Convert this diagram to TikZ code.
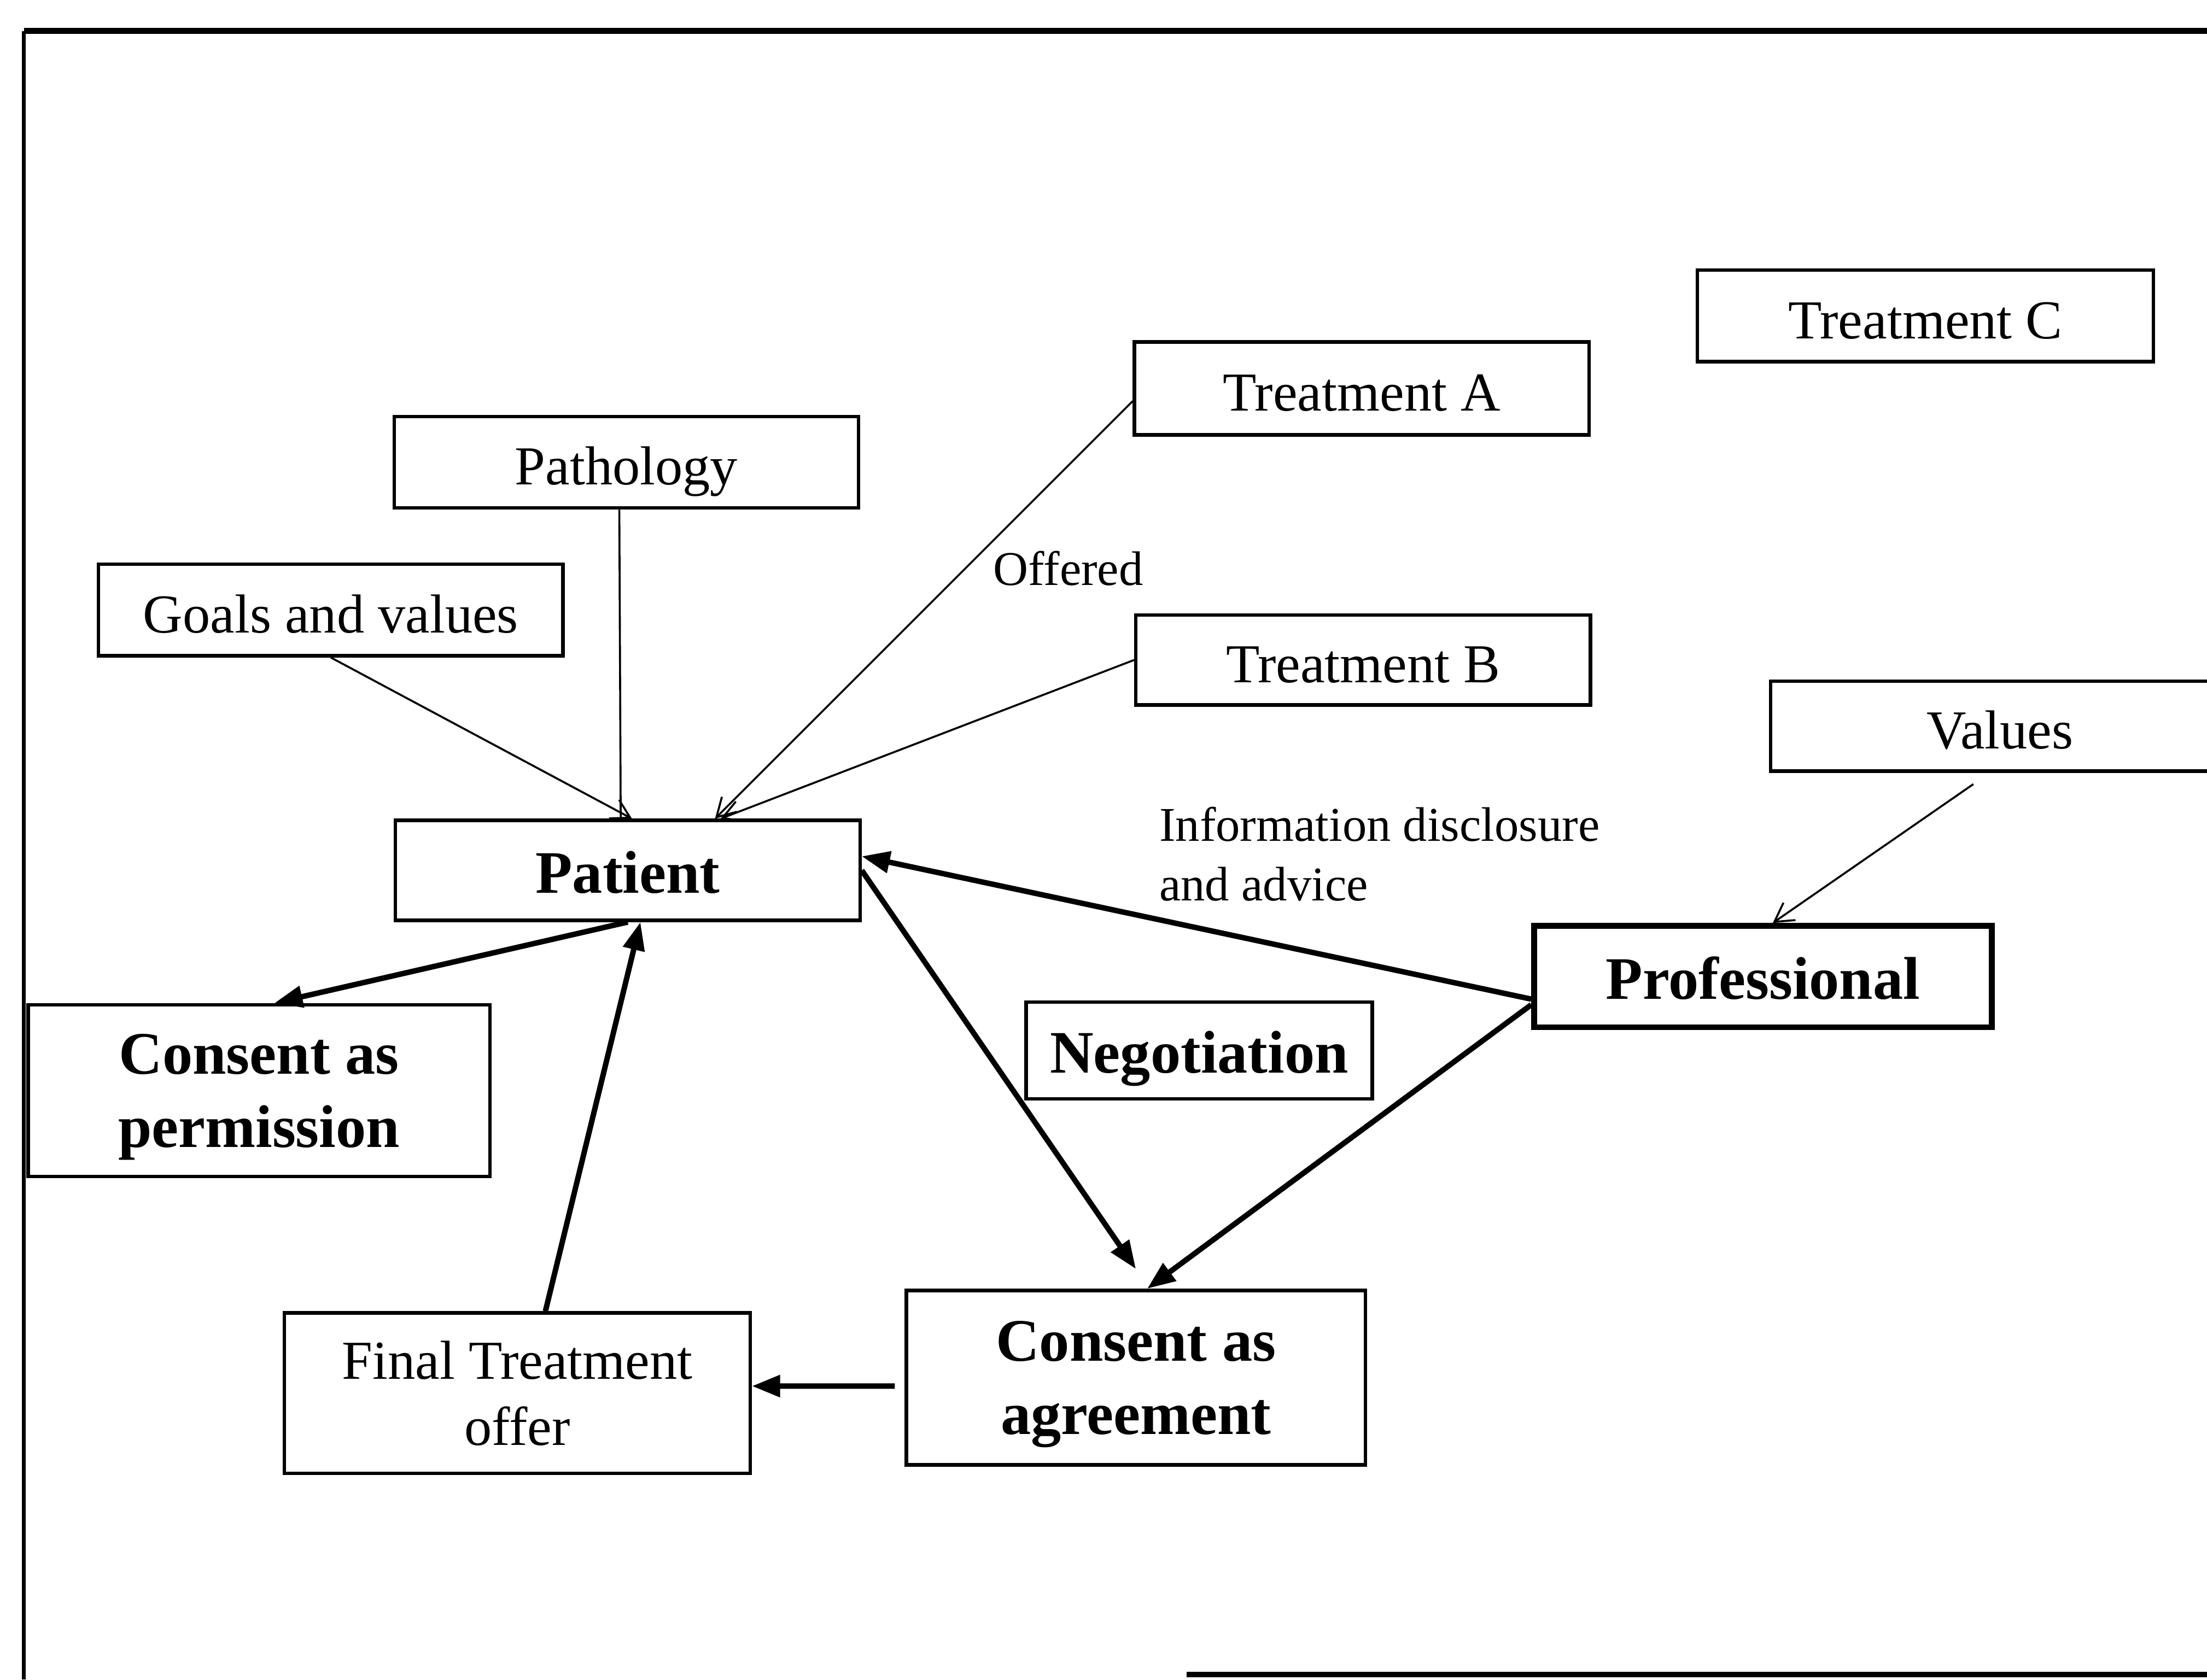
\documentclass[tikz,border=0pt]{standalone}
\usepackage{fontspec}
\setmainfont{Liberation Serif}
\usetikzlibrary{arrows.meta}

\begin{document}
\begin{tikzpicture}[x=0.1mm,y=-0.1mm,
  box/.style={draw,line width=0.7pt,inner sep=0pt,minimum height=0.65cm,
    align=center,text height=3.6mm,text depth=0.4mm,
    font=\fontsize{11.1}{13.4}\selectfont},
  keybox/.style={box,font=\fontsize{12.2}{14.8}\selectfont\bfseries},
  twoline/.style={text height={},text depth=#1},
  note/.style={inner sep=0pt,align=left,font=\fontsize{9.8}{12}\selectfont},
  link/.style={line width=0.4pt,-{Straight Barb[length=1.3mm,width=1.5mm]}},
  flow/.style={line width=1.1pt,-{Triangle[length=2mm,width=1.5mm]}}]
  \useasboundingbox (0,0) rectangle (1568,1193.5);
  \clip (0,0) rectangle (1568,1193.5);

  % frame
  \draw[line width=0.8pt] (17,1193.5) -- (17,22);
  \draw[line width=1.2pt] (17,22) -- (1568,22);
  \draw[line width=1.2pt] (843,1190) -- (1568,1190);

  % boxes
  \node[box,minimum width=3.24cm] (trc) at (1368,224.5) {Treatment C};
  \node[box,minimum width=3.23cm,minimum height=0.66cm] (tra) at (967.5,276) {Treatment A};
  \node[box,minimum width=3.3cm] (path) at (445,328.5) {Pathology};
  \node[box,minimum width=3.3cm] (goals) at (235,433.5) {Goals and values};
  \node[box,minimum width=3.23cm,minimum height=0.64cm] (trb) at (968.5,469) {Treatment B};
  \node[box,minimum width=3.26cm,minimum height=0.64cm] (vals) at (1421,516) {Values};
  \node[keybox,minimum width=3.3cm,minimum height=0.71cm] (pat) at (446,618.5) {Patient};
  \node[keybox,line width=1.2pt,minimum width=3.25cm,minimum height=0.72cm] (prof) at (1252.5,694) {Professional};
  \node[keybox,minimum width=2.46cm,minimum height=0.69cm] (nego) at (852,746.5) {Negotiation};
  \node[keybox,twoline=-0.9mm,minimum width=3.28cm,minimum height=1.22cm] (perm) at (184,775) {Consent as\\permission};
  \node[box,twoline=-0.15mm,minimum width=3.31cm,minimum height=1.14cm] (final) at (367.5,990) {Final Treatment\\offer};
  \node[keybox,twoline=-1.4mm,minimum width=3.26cm,minimum height=1.24cm] (agr) at (807,979) {Consent as\\agreement};

  % labels
  \node[note] (offd) at (759,404) {Offered};
  \node[note,anchor=west] (info) at (823,607) {Information disclosure\\and advice};

  % thin links
  \draw[link] (goals.south) -- ([xshift=0.3mm]pat.north);
  \draw[line width=0.4pt] ([xshift=-0.5mm]path.south) -- ([xshift=-0.5mm]pat.north);
  \draw[link] ([yshift=-0.9mm]tra.west) -- ([xshift=6.2mm]pat.north);
  \draw[link] (trb.west) -- ([xshift=6.6mm]pat.north);
  \draw[link] ([xshift=-1.9mm,yshift=-0.8mm]vals.south) -- ([xshift=0.7mm]prof.north);

  % heavy arrows
  \draw[flow] ([yshift=-1.6mm]prof.west) -- ([yshift=1mm]pat.east);
  \draw[flow] (pat.east) -- ([yshift=1.4mm]agr.north);
  \draw[flow] ([yshift=-2mm]prof.west) -- ([xshift=0.8mm]agr.north);
  \draw[flow] (pat.south) -- ([xshift=1.1mm]perm.north);
  \draw[flow] ([xshift=2mm]final.north) -- ([xshift=0.9mm]pat.south);
  \draw[flow] ([xshift=-0.7mm,yshift=-0.6mm]agr.west) -- ([yshift=0.5mm]final.east);
\end{tikzpicture}
\end{document}
